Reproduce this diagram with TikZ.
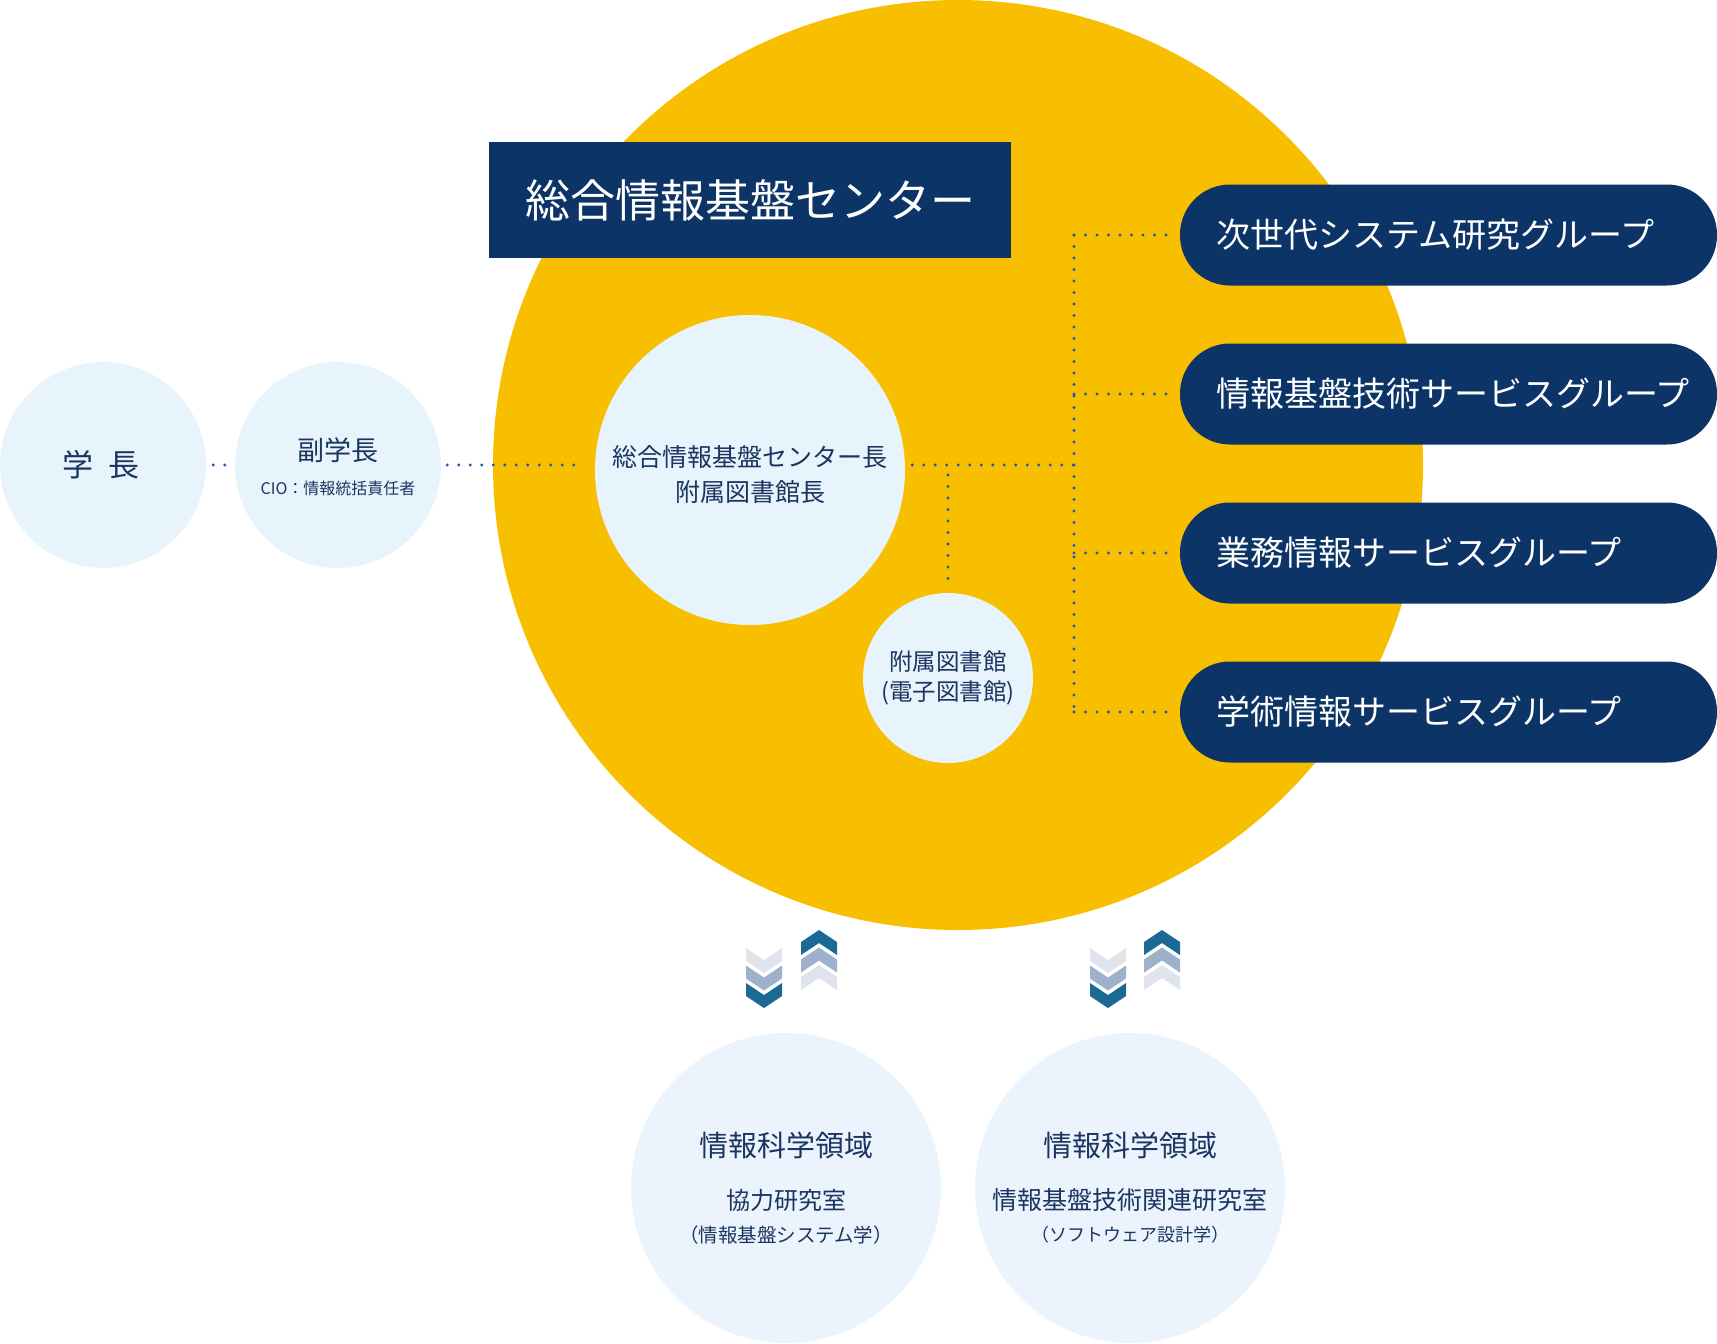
\documentclass[tikz,border=0pt]{standalone}
\usepackage{fontspec}
\setmainfont{Noto Sans CJK JP}
\definecolor{sunyellow}{HTML}{F8BE00}
\definecolor{navy}{HTML}{0D3466}
\definecolor{inktext}{HTML}{1B3461}
\definecolor{paleblue}{HTML}{E7F4FC}
\definecolor{paleblue2}{HTML}{EBF4FC}
\definecolor{dotblue}{HTML}{1F56B4}
\definecolor{chevdark}{HTML}{1B6A96}
\definecolor{chevmid}{HTML}{9EB1CA}
\definecolor{chevlight}{HTML}{DFE4EC}
\newcommand{\fs}[1]{\fontsize{#1}{#1}\selectfont}

\tikzset{
  member/.style={circle, fill=paleblue, inner sep=0pt, minimum size=#1},
  txt/.style={text=inktext, inner sep=0pt},
  grouppill/.style={rectangle, rounded corners=50pt, fill=navy, minimum height=101pt, minimum width=537pt, inner sep=0pt},
  grouptxt/.style={txt, text=white, anchor=west, font=\fs{34}},
  dotline/.style={dotblue, line width=3.2pt, line cap=round, dash pattern=on 0pt off 11.5pt},
  chevdown/.pic={\fill[#1] (-18,0) -- (0,12) -- (18,0) -- (18,13) -- (0,25) -- (-18,13) -- cycle;},
  chevup/.pic={\fill[#1] (0,0) -- (18,12) -- (18,25) -- (0,13) -- (-18,25) -- (-18,12) -- cycle;}
}

\begin{document}
\begin{tikzpicture}[x=1pt, y=-1pt]
\useasboundingbox (0,0) rectangle (1717,1344);

% centre
\node[circle, fill=sunyellow, minimum size=930pt, inner sep=0pt] (centre) at (958,465) {};
\node[rectangle, fill=navy, minimum width=522pt, minimum height=116pt, inner sep=0pt,
      text=white, font=\fs{45}] (title) at (750,200) {総合情報基盤センター};

% people
\node[member=206pt] (gakucho) at (103,465) {};
\node[member=206pt] (fuku) at (338,465) {};
\node[member=310pt, fill=paleblue] (chief) at (750,470) {};
\node[member=170pt] (lib) at (948,678) {};

\node[txt, font=\fs{31}] (gakuchotxt) at (101,465) {学\hspace{16pt}長};
\node[txt, font=\fs{27}] (fukutxt) at (338,450) {副学長};
\node[txt, font=\fs{16}] (ciotxt) at (338,488) {CIO：情報統括責任者};
\node[txt, font=\fs{25}] (chieftxt) at (750,457) {総合情報基盤センター長};
\node[txt, font=\fs{25}] (chieftxtb) at (750,492) {附属図書館長};
\node[txt, font=\fs{23.5}] (libtxt) at (948,662) {附属図書館};
\node[txt, font=\fs{23.5}] (libtxtb) at (948,693) {(電子図書館)};

% groups
\foreach \y/\name/\label in {235/g1/次世代システム研究グループ,
                              394/g2/情報基盤技術サービスグループ,
                              553/g3/業務情報サービスグループ,
                              712/g4/学術情報サービスグループ} {
  \node[grouppill] (\name) at (1448.5,\y) {};
  \node[grouptxt] (\name txt) at ([xshift=36pt]\name.west) {\label};
}

% connectors
\coordinate (jn) at (1074,465);
\coordinate (ttop) at (1074,235);
\coordinate (tbot) at (1074,712);
\coordinate (lj) at (lib.north |- jn);
\draw[dotline, shorten <=7pt, shorten >=7pt] (gakucho) -- (fuku);
\draw[dotline, shorten <=6pt, shorten >=13pt] (fuku.east) -- (fuku.east -| chief.west);
\draw[dotline, shorten <=7pt] (chief.east |- jn) -- (jn);
\draw[dotline] (ttop) -- (tbot);
\foreach \name in {g1,g2,g3,g4}
  \draw[dotline, shorten >=11pt] (\name.west -| jn) -- (\name.west);
\draw[dotline, shorten <=10pt, shorten >=12pt] (lj) -- (lib.north);

% labs
\node[member=310pt, fill=paleblue2] (lab1) at (786,1188) {};
\node[member=310pt, fill=paleblue2] (lab2) at (1130,1188) {};
\node[txt, font=\fs{29}] (lab1txt) at (786,1145) {情報科学領域};
\node[txt, font=\fs{24}] (lab1txtb) at (786,1200) {協力研究室};
\node[txt, font=\fs{19.5}] (lab1txtc) at (786,1235) {（情報基盤システム学）};
\node[txt, font=\fs{25}] (lab2txt) at (1130,1145) {\fs{29}情報科学領域};
\node[txt, font=\fs{25}] (lab2txtb) at (1130,1200) {情報基盤技術関連研究室};
\node[txt, font=\fs{18}] (lab2txtc) at (1130,1235) {（ソフトウェア設計学）};

% chevrons
\foreach \cx in {764,1108}
  \foreach \dy/\c in {0/chevlight,17.5/chevmid,35/chevdark}
    \pic at (\cx,{948+\dy}) {chevdown=\c};
\foreach \cx in {819,1162}
  \foreach \dy/\c in {0/chevdark,17.5/chevmid,35/chevlight}
    \pic at (\cx,{930+\dy}) {chevup=\c};
\end{tikzpicture}
\end{document}
